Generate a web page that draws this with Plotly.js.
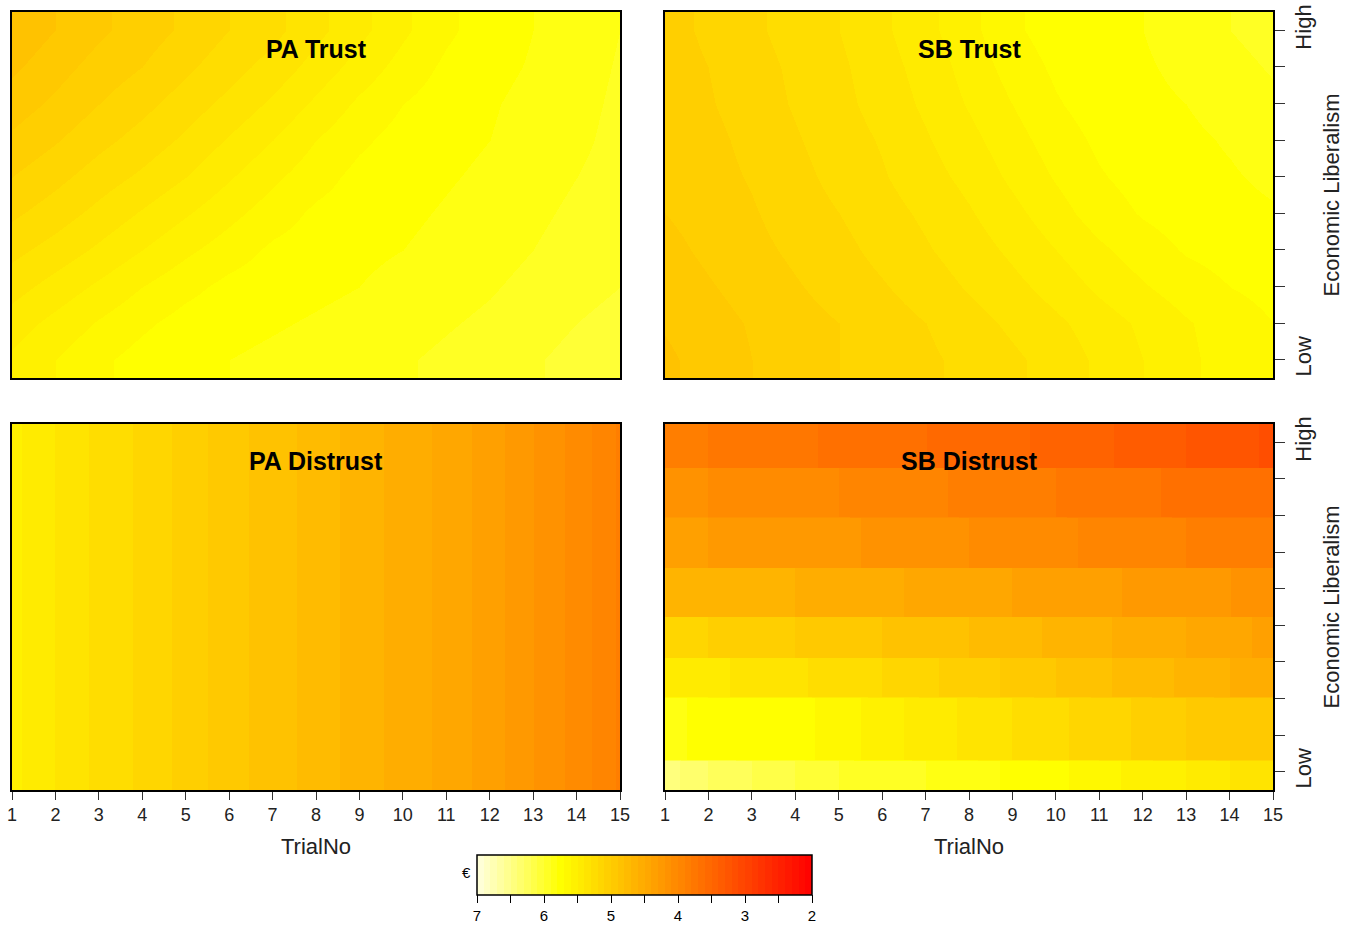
<!DOCTYPE html>
<html><head><meta charset="utf-8">
<script src="https://cdn.plot.ly/plotly-3.0.1.min.js"></script>
<style>html,body{margin:0;padding:0;background:#fff}</style>
</head><body>
<div id="chart" style="width:1351px;height:929px"></div>
<script>
// ---------------- data ----------------
const trialNo = [1,2,3,4,5,6,7,8,9,10,11,12,13,14,15];
const libLevels = [1,2,3,4,5,6,7,8,9,10];
const libTickText = ['Low','','','','','','','','','High'];
// SB Distrust is drawn on irregular liberalism bands (bin edges)
const sbDistrustEdges = [0.5,1.32,3.04,4.13,5.23,6.57,7.96,9.3,10.5];
const panelTitles = ['PA Trust','SB Trust','PA Distrust','SB Distrust'];
const cbTicks = [7,6,5,4,3,2];

// rows: Low (1) -> High (10)
const paTrust = [
  [5.52,5.6,5.68,5.74,5.78,5.8,5.82,5.84,5.86,5.89,5.92,5.95,5.99,6.03,6.06],
  [5.45,5.53,5.61,5.68,5.74,5.77,5.79,5.81,5.83,5.86,5.89,5.92,5.96,6.0,6.03],
  [5.36,5.44,5.52,5.6,5.67,5.73,5.76,5.78,5.8,5.83,5.86,5.89,5.93,5.97,6.0],
  [5.27,5.34,5.42,5.5,5.58,5.65,5.72,5.75,5.78,5.8,5.83,5.86,5.9,5.94,5.98],
  [5.18,5.25,5.33,5.41,5.49,5.57,5.65,5.72,5.75,5.78,5.81,5.84,5.88,5.92,5.96],
  [5.1,5.17,5.25,5.32,5.4,5.49,5.58,5.66,5.73,5.76,5.79,5.82,5.86,5.9,5.94],
  [5.02,5.09,5.17,5.24,5.32,5.41,5.5,5.6,5.68,5.74,5.77,5.8,5.84,5.88,5.93],
  [4.95,5.02,5.1,5.17,5.25,5.33,5.42,5.52,5.62,5.7,5.75,5.79,5.83,5.87,5.92],
  [4.88,4.96,5.04,5.1,5.18,5.26,5.34,5.44,5.54,5.64,5.72,5.77,5.81,5.86,5.91],
  [4.82,4.9,4.98,5.05,5.12,5.2,5.27,5.37,5.47,5.58,5.68,5.75,5.8,5.85,5.9]
];
const sbTrust = [
  [4.88,4.94,5.0,5.05,5.1,5.14,5.18,5.23,5.28,5.34,5.42,5.5,5.58,5.64,5.7],
  [4.91,4.96,5.01,5.06,5.1,5.15,5.2,5.26,5.32,5.38,5.45,5.52,5.59,5.65,5.7],
  [4.94,4.99,5.04,5.09,5.14,5.19,5.25,5.31,5.37,5.44,5.52,5.59,5.65,5.7,5.73],
  [4.97,5.02,5.07,5.12,5.17,5.23,5.29,5.35,5.42,5.5,5.58,5.65,5.71,5.74,5.76],
  [5.0,5.04,5.09,5.15,5.2,5.26,5.32,5.39,5.47,5.56,5.65,5.71,5.75,5.77,5.79],
  [5.01,5.06,5.11,5.17,5.23,5.29,5.36,5.43,5.52,5.61,5.69,5.74,5.77,5.79,5.82],
  [5.02,5.07,5.13,5.19,5.25,5.31,5.39,5.47,5.56,5.65,5.72,5.76,5.78,5.81,5.85],
  [5.04,5.09,5.15,5.21,5.27,5.34,5.42,5.51,5.6,5.69,5.75,5.78,5.8,5.84,5.88],
  [5.05,5.1,5.16,5.22,5.28,5.36,5.44,5.54,5.64,5.72,5.76,5.79,5.82,5.87,5.91],
  [5.06,5.12,5.18,5.24,5.3,5.38,5.47,5.57,5.68,5.75,5.77,5.8,5.84,5.9,5.94]
];
const paDistrust = [
  [5.53,5.4,5.27,5.18,5.06,4.94,4.85,4.76,4.65,4.56,4.47,4.35,4.2,4.06,3.88],
  [5.53,5.4,5.27,5.18,5.06,4.94,4.85,4.76,4.65,4.56,4.47,4.35,4.2,4.06,3.88],
  [5.53,5.4,5.27,5.18,5.06,4.94,4.85,4.76,4.65,4.56,4.47,4.35,4.2,4.06,3.88],
  [5.53,5.4,5.27,5.18,5.06,4.94,4.85,4.76,4.65,4.56,4.47,4.35,4.2,4.06,3.88],
  [5.53,5.4,5.27,5.18,5.06,4.94,4.85,4.76,4.65,4.56,4.47,4.35,4.2,4.06,3.88],
  [5.53,5.4,5.27,5.18,5.06,4.94,4.85,4.76,4.65,4.56,4.47,4.35,4.2,4.06,3.88],
  [5.53,5.4,5.27,5.18,5.06,4.94,4.85,4.76,4.65,4.56,4.47,4.35,4.2,4.06,3.88],
  [5.53,5.4,5.27,5.18,5.06,4.94,4.85,4.76,4.65,4.56,4.47,4.35,4.2,4.06,3.88],
  [5.53,5.4,5.27,5.18,5.06,4.94,4.85,4.76,4.65,4.56,4.47,4.35,4.2,4.06,3.88],
  [5.53,5.4,5.27,5.18,5.06,4.94,4.85,4.76,4.65,4.56,4.47,4.35,4.2,4.06,3.88]
];
const sbDistrust = [
  [6.45,6.3,6.2,6.1,6.0,5.95,5.9,5.85,5.78,5.72,5.65,5.55,5.5,5.4,5.35],
  [5.82,5.78,5.75,5.74,5.65,5.55,5.45,5.38,5.3,5.22,5.15,5.08,5.0,4.95,4.9],
  [5.45,5.42,5.38,5.32,5.25,5.2,5.12,5.05,4.98,4.9,4.82,4.75,4.68,4.6,4.55],
  [5.12,5.1,5.06,5.0,4.95,4.9,4.85,4.8,4.74,4.68,4.62,4.55,4.5,4.42,4.38],
  [4.7,4.68,4.65,4.6,4.56,4.52,4.48,4.44,4.4,4.36,4.32,4.28,4.24,4.2,4.16],
  [4.32,4.3,4.28,4.25,4.22,4.18,4.14,4.1,4.06,4.02,3.98,3.94,3.9,3.86,3.82],
  [4.12,4.1,4.07,4.04,4.0,3.96,3.92,3.88,3.84,3.8,3.76,3.72,3.67,3.63,3.6],
  [3.82,3.8,3.76,3.72,3.68,3.64,3.6,3.56,3.52,3.47,3.42,3.36,3.3,3.24,3.18]
];

// ---------------- colours ----------------
// heat colours: red (2) -> orange -> yellow -> pale yellow (7)
function heat(t){
  let r=255,g,b;
  if(t<=0.75){ g=Math.round(255*t/0.75); b=0; }
  else { g=255; b=Math.round(224*(t-0.75)/0.25); }
  return 'rgb('+r+','+g+','+b+')';
}
// colour bar runs 7 (left) -> 2 (right): values are negated for display
const nSteps = 50;
const colorscale = [];
for(let i=0;i<nSteps;i++){
  const c = heat(1-(i+0.5)/nSteps);
  colorscale.push([i/nSteps,c]);
  colorscale.push([(i+1)/nSteps,c]);
}
const neg = r => r.map(v => -v);

// SB Distrust: each band is constant in liberalism, smooth along TrialNo
const sbY=[], sbZ=[], sbT=[];
sbDistrust.forEach((row,k)=>{
  const a=sbDistrustEdges[k], b=sbDistrustEdges[k+1];
  sbY.push(a+0.015, b-0.015);
  sbZ.push(neg(row), neg(row));
  sbT.push(row, row);
});

const FONT = 'Liberation Sans, Arial, Helvetica, sans-serif';
const sources = [paTrust, sbTrust, paDistrust];
const traces = sources.map((src,k) => ({
  type:'heatmap', x: trialNo, y: libLevels,
  z: src.map(neg), text: src,
  hovertemplate: panelTitles[k]+'<br>TrialNo %{x}<br>€ %{text}<extra></extra>',
  coloraxis:'coloraxis', zsmooth:'best',
  xaxis: k===0?'x':'x'+(k+1), yaxis: k===0?'y':'y'+(k+1)
}));
traces.push({
  type:'heatmap', x: trialNo, y: sbY, z: sbZ, text: sbT,
  hovertemplate: panelTitles[3]+'<br>TrialNo %{x}<br>€ %{text}<extra></extra>',
  coloraxis:'coloraxis', zsmooth:'best', xaxis:'x4', yaxis:'y4'
});

const W=1351,H=929;
const xL=[12/W,620/W], xR=[665/W,1273/W];
const yT=[1-378/H,1-12/H], yB=[1-790/H,1-424/H];

function xax(dom, anchor, show){
  return {domain:dom, anchor:anchor, range:[1,15], showgrid:false, zeroline:false,
    showline:true, mirror:true, linecolor:'#000', linewidth:1.5,
    tickvals: show?trialNo:[], ticks: show?'outside':'', ticklen:8, tickwidth:1.2, tickcolor:'#333',
    showticklabels:show, tickfont:{family:FONT,size:18,color:'#222'},
    title: show?{text:'TrialNo', font:{family:FONT,size:22,color:'#222'}, standoff:14}:{text:''}};
}
function yax(dom, anchor, show){
  return {domain:dom, anchor:anchor, range:[0.5,10.5], side:'right', showgrid:false, zeroline:false,
    showline:true, mirror:true, linecolor:'#000', linewidth:1.5,
    tickvals: show?libLevels:[], ticktext: libTickText, ticks: show?'outside':'', ticklen:10, tickwidth:1.2, tickcolor:'#333',
    showticklabels:show, tickangle:-90, tickfont:{family:FONT,size:22,color:'#222'},
    title: show?{text:'Economic Liberalism', font:{family:FONT,size:22,color:'#222'}, standoff:8}:{text:''}};
}

const tickVals=[], tickText=[];
cbTicks.forEach((v,i)=>{
  tickVals.push(-v); tickText.push(String(v));
  if(i<cbTicks.length-1){ tickVals.push(-(v-0.5)); tickText.push(''); }
});

const titlePos = [[316/W,1-49/H],[969/W,1-49/H],[316/W,1-461/H],[969/W,1-461/H]];
const annotations = panelTitles.map((t,k)=>({
  text:'<b>'+t+'</b>', xref:'paper', yref:'paper', x:titlePos[k][0], y:titlePos[k][1],
  xanchor:'center', yanchor:'middle', showarrow:false,
  font:{family:FONT,size:25,color:'#000'}
}));
annotations.push({text:'€', xref:'paper', yref:'paper', x:466/W, y:1-872/H,
  xanchor:'center', yanchor:'middle', showarrow:false, font:{family:FONT,size:15,color:'#000'}});

const layout = {
  width:W, height:H, margin:{l:0,r:0,t:0,b:0},
  paper_bgcolor:'#fff', plot_bgcolor:'#fff', showlegend:false,
  font:{family:FONT,color:'#222'},
  xaxis: xax(xL,'y',false),   yaxis: yax(yT,'x',false),
  xaxis2: xax(xR,'y2',false), yaxis2: yax(yT,'x2',true),
  xaxis3: xax(xL,'y3',true),  yaxis3: yax(yB,'x3',false),
  xaxis4: xax(xR,'y4',true),  yaxis4: yax(yB,'x4',true),
  coloraxis:{colorscale:colorscale, cmin:-7, cmax:-2,
    colorbar:{orientation:'h', x:644.5/W, xanchor:'center', y:1-855/H, yanchor:'top',
      len:335, lenmode:'pixels', thickness:40, thicknessmode:'pixels',
      xpad:0, ypad:0, outlinewidth:1.5, outlinecolor:'#000',
      tickmode:'array', tickvals:tickVals, ticktext:tickText,
      ticks:'outside', ticklen:8, tickwidth:1.2, tickcolor:'#000',
      tickfont:{family:FONT,size:15,color:'#000'}}},
  annotations: annotations
};

Plotly.newPlot('chart', traces, layout, {displayModeBar:false});
</script>
</body></html>
